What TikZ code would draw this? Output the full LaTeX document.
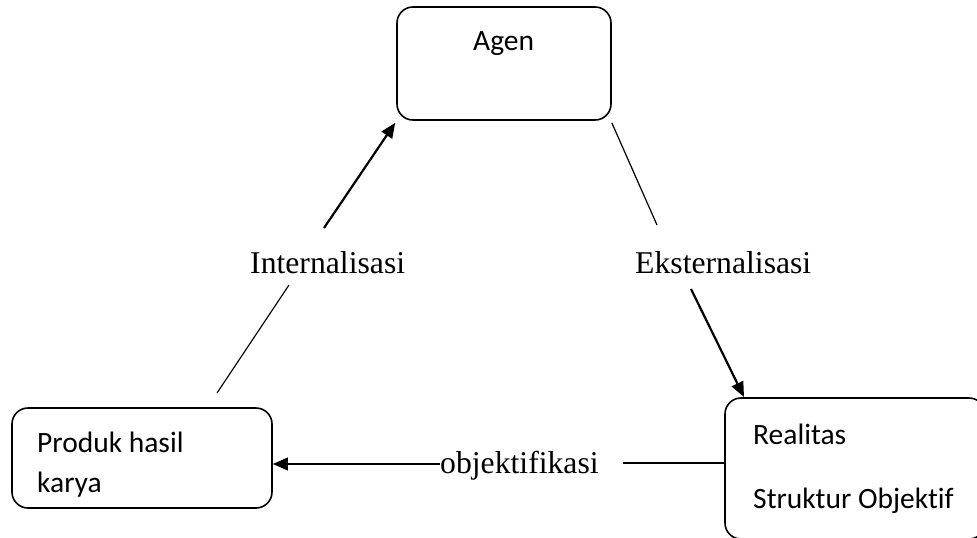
\documentclass[tikz,border=0pt]{standalone}
\usepackage{fontspec}
\setmainfont{Liberation Serif}
\newfontfamily\calfont[Ligatures=NoCommon]{Carlito}
\usetikzlibrary{arrows.meta}
\begin{document}
\begin{tikzpicture}[x=1pt,y=-1pt,
  box/.style={draw,line width=1.6pt,rounded corners=16pt,inner sep=0pt},
  boxtext/.style={font=\calfont\fontsize{29.5}{34}\selectfont,anchor=base west,inner sep=0pt},
  lbl/.style={font=\fontsize{31.7}{36}\selectfont,anchor=base west,inner sep=0pt},
  thinline/.style={line width=1.2pt},
  thickarrow/.style={line width=2.2pt,-{Triangle[length=15pt,width=12.5pt]}}]
\useasboundingbox (0,0) rectangle (977,538);
\clip (0,0) rectangle (977,538);
% boxes
\node[box,minimum width=214pt,minimum height=113pt] (agen) at (504,63.5) {};
\node[box,minimum width=260pt,minimum height=100pt] (prod) at (142,458) {};
\node[box,minimum width=260pt,minimum height=141pt] (real) at (855,468.5) {};
% box texts
\node[boxtext] (tagen) at (473,50) {Agen};
\node[boxtext] (treal1) at (753,444) {Realitas};
\node[boxtext] (treal2) at (753,508) {Struktur Objektif};
\node[boxtext] (tprod1) at (37,452) {Produk hasil};
\node[boxtext] (tprod2) at (37,492) {karya};
% labels
\node[lbl] (lint) at (250,273) {Internalisasi};
\node[lbl] (leks) at (635,273) {Eksternalisasi};
\node[lbl] (lobj) at (440,473) {objektifikasi};
% connector points
\coordinate (i1) at (217,393);
\coordinate (i2) at (289,285);
\coordinate (i3) at (324,228);
\coordinate (e2) at (657,225);
\coordinate (e3) at (691,289);
\coordinate (e4) at (744,397);
\coordinate (o1) at (440,464);
\coordinate (o2) at (623,463);
% connectors
\draw[thinline] (i1) -- (i2);
\draw[thickarrow] (i3) -- ([xshift=-1pt,yshift=-2pt]agen.south west);
\draw[thinline] ([yshift=-2pt]agen.south east) -- (e2);
\draw[thickarrow] (e3) -- (e4);
\draw[thinline] (o2) -- (o2 -| real.west);
\draw[thickarrow] (o1) -- (o1 -| prod.east);
\end{tikzpicture}
\end{document}
